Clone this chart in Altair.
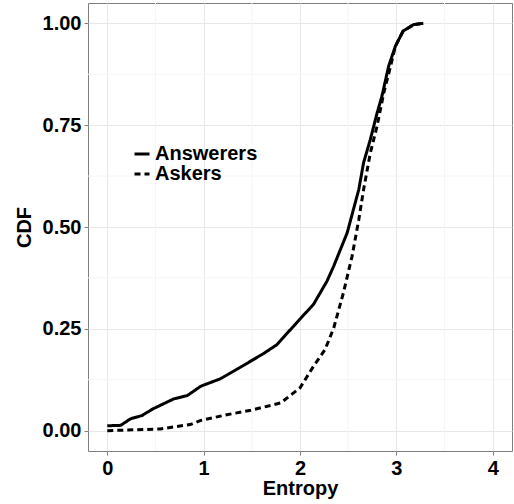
import altair as alt
import pandas as pd

# Empirical CDF of entropy for the two user groups
ans_x = [0.0, 0.14, 0.24, 0.36, 0.47, 0.69, 0.83, 0.97, 1.17, 1.42, 1.62, 1.76, 1.87,
         2.0, 2.14, 2.28, 2.35, 2.49, 2.61, 2.66, 2.73, 2.80, 2.85, 2.92, 2.99, 3.07,
         3.18, 3.28]
ans_y = [0.012, 0.013, 0.029, 0.037, 0.053, 0.078, 0.086, 0.109, 0.127, 0.161, 0.189,
         0.211, 0.240, 0.274, 0.310, 0.367, 0.404, 0.486, 0.592, 0.658, 0.715, 0.780,
         0.821, 0.895, 0.944, 0.981, 0.997, 1.0]

ask_x = [0.0, 0.55, 0.86, 0.97, 1.24, 1.49, 1.80, 2.0, 2.14, 2.26, 2.35, 2.45, 2.54,
         2.61, 2.66, 2.73, 2.80, 2.87, 2.94, 2.99, 3.07, 3.18, 3.28]
ask_y = [0.0, 0.004, 0.015, 0.025, 0.039, 0.050, 0.068, 0.105, 0.158, 0.199, 0.252,
         0.338, 0.428, 0.518, 0.592, 0.682, 0.748, 0.830, 0.895, 0.944, 0.981, 0.997,
         1.0]

groups = ["Answerers", "Askers"]
x_ticks = [0, 1, 2, 3, 4]
y_ticks = [0.0, 0.25, 0.5, 0.75, 1.0]
minor_x = [0.5, 1.5, 2.5, 3.5]
minor_y = [0.125, 0.375, 0.625, 0.875]

df = pd.concat([
    pd.DataFrame({"Entropy": ans_x, "CDF": ans_y, "group": groups[0], "order": range(len(ans_x))}),
    pd.DataFrame({"Entropy": ask_x, "CDF": ask_y, "group": groups[1], "order": range(len(ask_x))}),
])

FONT = "Liberation Sans"
x_scale = alt.Scale(domain=[-0.2, 4.2], nice=False, zero=False)
y_scale = alt.Scale(domain=[-0.05, 1.05], nice=False, zero=False)

minor_v = alt.Chart(pd.DataFrame({"v": minor_x})).mark_rule(
    color="#f5f5f5", strokeWidth=1
).encode(x=alt.X("v:Q", scale=x_scale))
minor_h = alt.Chart(pd.DataFrame({"v": minor_y})).mark_rule(
    color="#f5f5f5", strokeWidth=1
).encode(y=alt.Y("v:Q", scale=y_scale))

lines = alt.Chart(df).mark_line(color="black", strokeWidth=3).encode(
    x=alt.X("Entropy:Q", scale=x_scale,
            axis=alt.Axis(values=x_ticks, format="d", title="Entropy")),
    y=alt.Y("CDF:Q", scale=y_scale,
            axis=alt.Axis(values=y_ticks, format=".2f", title="CDF")),
    strokeDash=alt.StrokeDash(
        "group:N",
        scale=alt.Scale(domain=groups, range=[[1, 0], [6, 4]]),
        legend=alt.Legend(
            title=None, orient="none", legendX=44, legendY=141,
            symbolType="stroke", symbolStrokeWidth=3, symbolSize=225,
            symbolStrokeColor="black", labelFontSize=20, labelFont=FONT,
            labelFontWeight="bold", labelColor="black", rowPadding=-1,
            labelOffset=3, padding=0,
        ),
    ),
    order="order:Q",
)

chart = alt.layer(minor_v, minor_h, lines).properties(
    width=424, height=448,
    autosize=alt.AutoSizeParams(type="none"),
    padding={"left": 88, "top": 3, "right": 2, "bottom": 53},
).configure_view(
    stroke="#7f7f7f", strokeWidth=1
).configure_axis(
    grid=True, gridColor="#e8e8e8", gridWidth=1,
    domain=False, tickColor="#7f7f7f", tickSize=4,
    labelFont=FONT, labelFontSize=20, labelFontWeight="bold", labelColor="black",
    titleFont=FONT, titleFontSize=20, titleFontWeight="bold", titleColor="black",
    labelPadding=3,
).configure_axisY(titlePadding=8).configure_axisX(titlePadding=0)

chart.save("out.html", embed_options={"renderer": "svg", "actions": False})
